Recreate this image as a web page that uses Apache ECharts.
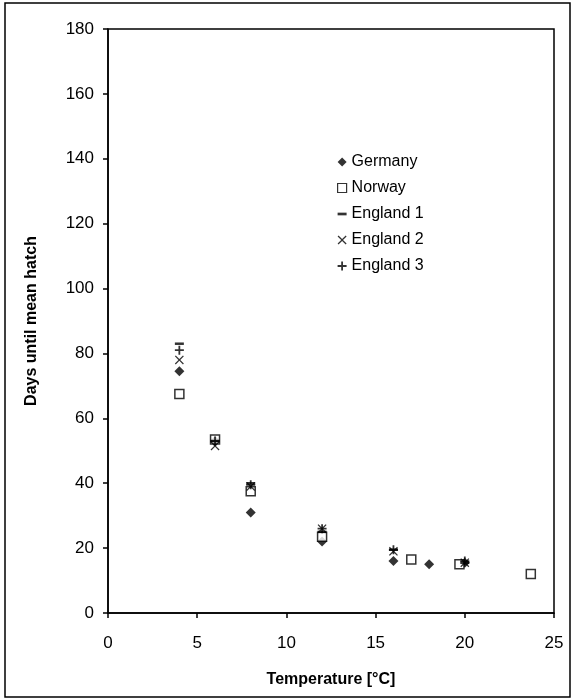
<!DOCTYPE html>
<html><head><meta charset="utf-8">
<script src="https://cdn.jsdelivr.net/npm/echarts@6/dist/echarts.min.js"></script>
<style>html,body{margin:0;padding:0;background:#fff}#c{width:575px;height:700px}</style>
</head><body><div id="c"></div>
<script>
const germany = [[4,74.5],[6,53],[8,31],[12,22],[16,16],[18,15],[20,15.5]];
const norway = [[4,67.5],[6,53.5],[8,37.5],[12,23.5],[17,16.5],[19.7,15],[23.7,12]];
const england1 = [[4,83],[6,53],[8,40],[12,25],[16,19.5],[20,15.5]];
const england2 = [[4,78],[6,51.5],[8,39],[12,26],[16,19],[20,15.5]];
const england3 = [[4,81],[6,53],[8,39.5],[12,26],[16,19.5],[20,16]];
const seriesNames = ['Germany','Norway','England 1','England 2','England 3'];

const plusPath = 'path://M4,0h2v4h4v2h-4v4h-2v-4h-4v-2h4z';
const crossPath = 'path://M1,0L5,4L9,0L10,1L6,5L10,9L9,10L5,6L1,10L0,9L4,5L0,1z';
const dashPath = 'path://M0,0H10V3H0Z';

const chart = echarts.init(document.getElementById('c'));
const font = 'Liberation Sans, Arial, sans-serif';
chart.setOption({
  animation: false,
  graphic: [{type:'rect', shape:{x:5,y:3,width:565,height:694}, style:{fill:'none', stroke:'#000', lineWidth:1.5}, z:-1}],
  grid: {left:108, right:21, top:29, bottom:87, show:true, borderColor:'#000', borderWidth:1.5},
  legend: {
    orient:'vertical', left:332, top:148, itemGap:8, itemWidth:9, itemHeight:9,
    textStyle:{fontFamily:font, fontSize:16, color:'#000', lineHeight:18},
    data: [
      {name:seriesNames[0], icon:'diamond'},
      {name:seriesNames[1], icon:'rect', itemStyle:{color:'#fff', borderColor:'#000', borderWidth:1.2}},
      {name:seriesNames[2], icon:dashPath},
      {name:seriesNames[3], icon:crossPath},
      {name:seriesNames[4], icon:plusPath}
    ]
  },
  xAxis: {
    type:'value', min:0, max:25, interval:5,
    name:'Temperature [°C]', nameLocation:'middle', nameGap:59,
    nameTextStyle:{fontFamily:font, fontSize:16, fontWeight:'bold', color:'#000'},
    axisLine:{lineStyle:{color:'#000', width:1.5}},
    axisTick:{show:true, inside:false, length:5, lineStyle:{color:'#000', width:1.5}},
    axisLabel:{fontFamily:font, fontSize:17, color:'#000', margin:22},
    splitLine:{show:false}
  },
  yAxis: {
    type:'value', min:0, max:180, interval:20,
    name:'Days until mean hatch', nameLocation:'middle', nameGap:68,
    nameTextStyle:{fontFamily:font, fontSize:16, fontWeight:'bold', color:'#000'},
    axisLine:{show:true, lineStyle:{color:'#000', width:1.5}},
    axisTick:{show:true, inside:false, length:5, lineStyle:{color:'#000', width:1.5}},
    axisLabel:{fontFamily:font, fontSize:17, color:'#000', margin:14},
    splitLine:{show:false}
  },
  series: [
    {name:seriesNames[0], type:'scatter', data:germany, symbol:'diamond', symbolSize:10, itemStyle:{color:'#000'}},
    {name:seriesNames[1], type:'scatter', data:norway, symbol:'rect', symbolSize:9, itemStyle:{color:'#fff', borderColor:'#000', borderWidth:1.5}},
    {name:seriesNames[2], type:'scatter', data:england1, symbol:'rect', symbolSize:[9,2.5], itemStyle:{color:'#000'}},
    {name:seriesNames[3], type:'scatter', data:england2, symbol:crossPath, symbolSize:9, itemStyle:{color:'#000'}},
    {name:seriesNames[4], type:'scatter', data:england3, symbol:plusPath, symbolSize:9, itemStyle:{color:'#000'}}
  ]
});
</script></body></html>
